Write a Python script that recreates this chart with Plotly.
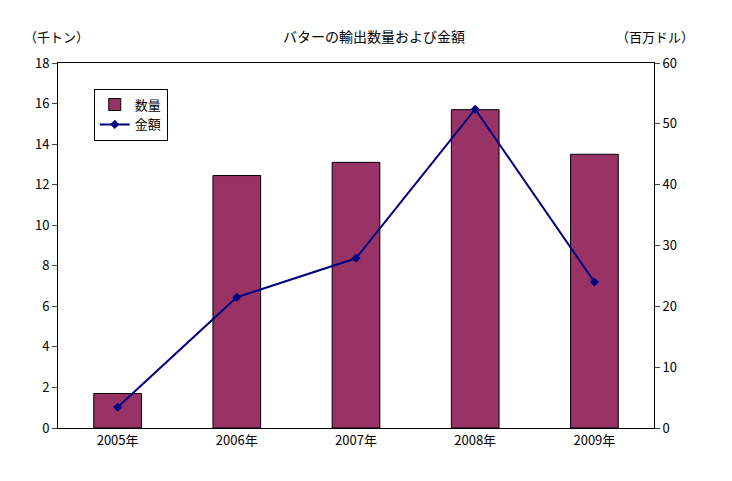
import plotly.graph_objects as go

years = ["2005年", "2006年", "2007年", "2008年", "2009年"]
quantity = [1.7, 12.45, 13.1, 15.7, 13.5]
amount = [3.4, 21.5, 27.9, 52.4, 24.0]

F = "Noto Sans CJK JP"
fig = go.Figure()
fig.add_trace(go.Bar(x=years, y=quantity, name="数量", marker=dict(color="#993366", line=dict(color="black", width=1)), width=0.4))
fig.add_trace(go.Scatter(x=years, y=amount, name="金額", yaxis="y2", mode="lines+markers",
                         line=dict(color="#000080", width=2), marker=dict(symbol="diamond", size=7, color="#000080")))
fig.update_layout(
    width=732, height=481, paper_bgcolor="white", plot_bgcolor="white",
    font=dict(family=F, size=13, color="black"),
    margin=dict(l=50, r=86, t=55, b=61),
    title=dict(text="バターの輸出数量および金額", x=0.5, y=0.95, xanchor="center", font=dict(size=14)),
    xaxis=dict(showline=True, linecolor="black", mirror=True, ticks="", showgrid=False),
    yaxis=dict(range=[0, 18], dtick=2, showline=True, linecolor="black", ticks="outside", ticklen=5, showgrid=False, zeroline=False),
    yaxis2=dict(range=[0, 60], dtick=10, overlaying="y", side="right", showline=True, linecolor="black", ticks="outside", ticklen=5, showgrid=False, zeroline=False),
    legend=dict(x=0.06, y=0.93, xanchor="left", yanchor="top", bordercolor="black", borderwidth=1, bgcolor="white", font=dict(size=13), tracegroupgap=0),
    showlegend=True, bargap=0.6,
    annotations=[
        dict(text="（千トン）", xref="paper", yref="paper", x=-0.06, y=1.04, xanchor="left", yanchor="bottom", showarrow=False),
        dict(text="（百万ドル）", xref="paper", yref="paper", x=1.07, y=1.04, xanchor="right", yanchor="bottom", showarrow=False),
    ],
)
fig.write_html("out.html")
